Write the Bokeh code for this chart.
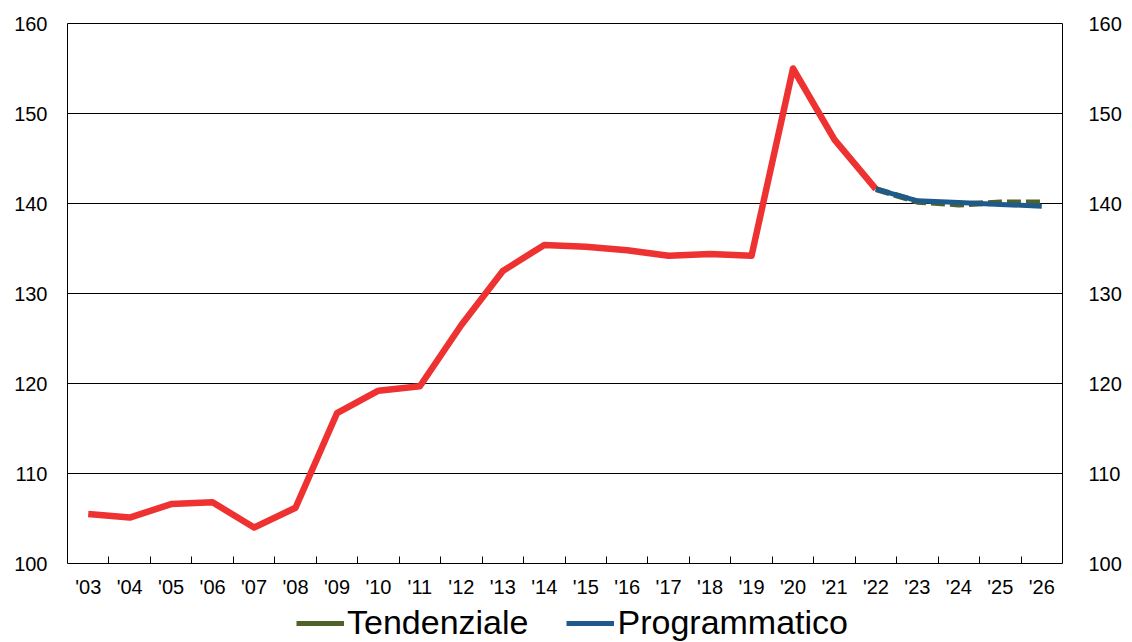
from bokeh.plotting import figure
from bokeh.layouts import column
from bokeh.models import (LinearAxis, FixedTicker, Range1d, Legend, LegendItem)
from bokeh.embed import file_html
from bokeh.resources import INLINE

years = ["'03", "'04", "'05", "'06", "'07", "'08", "'09", "'10", "'11", "'12", "'13", "'14",
         "'15", "'16", "'17", "'18", "'19", "'20", "'21", "'22", "'23", "'24", "'25", "'26"]
storico = [105.5, 105.1, 106.6, 106.8, 104.0, 106.2, 116.7, 119.2, 119.7, 126.5, 132.5, 135.4,
           135.2, 134.8, 134.2, 134.4, 134.2, 155.0, 147.1, 141.6]
tendenziale = [141.6, 140.2, 139.9, 140.1, 140.1]
programmatico = [141.6, 140.3, 140.1, 139.9, 139.7]

FONT = "Liberation Sans"
idx = list(range(len(years)))

p = figure(width=1124, height=600, output_backend="svg", toolbar_location=None,
           x_range=Range1d(-0.5, len(years) - 0.5), y_range=Range1d(100, 160),
           min_border_left=67, min_border_right=58, min_border_top=23, min_border_bottom=35)
p.background_fill_color = "white"
p.border_fill_color = "white"
p.outline_line_color = "black"
p.outline_line_width = 1

# x axis
xax = p.xaxis[0]
xax.ticker = FixedTicker(ticks=idx, minor_ticks=[i + 0.5 for i in idx[:-1]])
xax.major_label_overrides = {i: y for i, y in zip(idx, years)}
xax.major_tick_in = 0
xax.major_tick_out = 0
xax.minor_tick_in = 7
xax.minor_tick_out = 0
xax.minor_tick_line_color = "black"
xax.axis_line_color = None
xax.major_label_text_font = FONT
xax.major_label_text_font_size = "20px"
xax.major_label_text_color = "black"
xax.major_label_standoff = 12

# y axes
yticks = FixedTicker(ticks=[100, 110, 120, 130, 140, 150, 160])
yl = p.yaxis[0]
yr = LinearAxis()
p.add_layout(yr, "right")
for ax, so in ((yl, 20), (yr, 26)):
    ax.ticker = yticks
    ax.major_tick_in = 0
    ax.major_tick_out = 0
    ax.minor_tick_in = 0
    ax.minor_tick_out = 0
    ax.axis_line_color = None
    ax.major_label_text_font = FONT
    ax.major_label_text_font_size = "20px"
    ax.major_label_text_color = "black"
    ax.major_label_standoff = so

p.xgrid.grid_line_color = None
p.ygrid.ticker = yticks
p.ygrid.grid_line_color = "black"
p.ygrid.grid_line_width = 1
p.ygrid.grid_line_alpha = 1

RED = "#EE3232"
GREEN = "#4F6228"
BLUE = "#1F5A8C"

p.line(idx[:len(storico)], storico, line_color=RED, line_width=6.5, line_join="round")
off = len(storico) - 1
proj_x = idx[off:off + len(tendenziale)]
p.line(proj_x, tendenziale, line_color=GREEN, line_width=6, line_dash="14 5")
p.line(proj_x, programmatico, line_color=BLUE, line_width=5, line_join="round")

# legend strip below the chart
lf = figure(width=1124, height=42, output_backend="svg", toolbar_location=None,
            x_range=Range1d(0, 1), y_range=Range1d(0, 1),
            min_border_left=0, min_border_right=0, min_border_top=0, min_border_bottom=0)
lf.axis.visible = False
lf.grid.visible = False
lf.outline_line_color = None
lf.background_fill_color = "white"
lf.border_fill_color = "white"
rg = lf.line(x=proj_x[:1], y=tendenziale[:1], line_color=GREEN, line_width=5)
rb_leg = lf.line(x=proj_x[:1], y=programmatico[:1], line_color=BLUE, line_width=5)

legend = Legend(items=[LegendItem(label="Tendenziale", renderers=[rg]),
                       LegendItem(label="Programmatico", renderers=[rb_leg])],
                orientation="horizontal", location=(229, 0),
                label_text_font=FONT, label_text_font_size="34px", label_text_color="black",
                glyph_width=48, glyph_height=34, label_standoff=3, spacing=38,
                padding=0, margin=0, border_line_color=None, background_fill_alpha=0,
                label_height=34)
lf.add_layout(legend, "center")

layout = column(p, lf, spacing=0)
open("out.html", "w").write(file_html(layout, INLINE))
